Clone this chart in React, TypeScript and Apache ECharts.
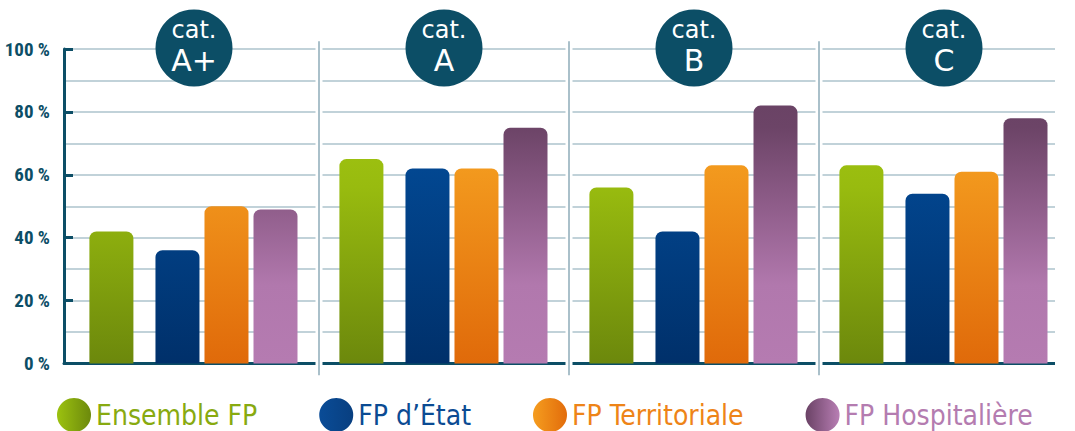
import React, { useEffect, useRef } from 'react';
import * as echarts from 'echarts';

// ---- data ----
const categories = ['A+', 'A', 'B', 'C'];
const seriesNames = ['Ensemble FP', 'FP d’État', 'FP Territoriale', 'FP Hospitalière'];
const ensembleFP = [42, 65, 56, 63];
const fpEtat = [36, 62, 42, 54];
const fpTerritoriale = [50, 62, 63, 61];
const fpHospitaliere = [49, 75, 82, 78];
const yMin = 0;
const yMax = 100;
const yInterval = 20;
const badgeValue = 100;

// ---- style ----
const W = 1075;
const H = 431;
const GRID_LEFT = 64;
const GRID_TOP = 49;
const GRID_W = 1000;
const GRID_H = 314.5;
const TEAL = '#0c4e66';
const GRID_COLOR = '#adc3cc';
const SEP_COLOR = '#8eabb8';
const NARROW = '"Roboto Condensed", Roboto, "Liberation Sans", sans-serif';
const LEGEND_FONT = '"DejaVu Sans Condensed", "Liberation Sans Narrow", Roboto, sans-serif';
const BADGE_FONT = '"DejaVu Sans", sans-serif';

const vGrad = (stops: [number, string][]) =>
  new echarts.graphic.LinearGradient(
    0, GRID_TOP, 0, GRID_TOP + GRID_H,
    stops.map(([offset, color]) => ({ offset, color })),
    true
  );
const hGrad = (a: string, b: string) =>
  new echarts.graphic.LinearGradient(0, 0, 1, 0, [
    { offset: 0, color: a },
    { offset: 1, color: b },
  ]);

const barColors = [
  vGrad([[0, '#a9cf12'], [0.44, '#98bb0f'], [1, '#6c880c']]),
  vGrad([[0, '#0750a0'], [0.38, '#024791'], [1, '#00306a']]),
  vGrad([[0, '#f7a523'], [0.37, '#f39a1e'], [1, '#e06a0a']]),
  vGrad([[0, '#654060'], [0.25, '#6c4467'], [0.5, '#8f5d8a'], [0.75, '#b178ad'], [1, '#b57bb1']]),
];
const legendIconColors = [
  hGrad('#9cc20f', '#6c890c'),
  hGrad('#0a4c97', '#083f80'),
  hGrad('#f59d1f', '#e26c0b'),
  hGrad('#6a4265', '#b87eb4'),
];
const legendTextColors = ['#88aa10', '#0b4b93', '#ee8418', '#b47cb0'];

const seriesValues = [ensembleFP, fpEtat, fpTerritoriale, fpHospitaliere];

export default function App() {
  const ref = useRef<HTMLDivElement>(null);
  useEffect(() => {
    if (!ref.current) return;
    const chart = echarts.init(ref.current, null, { renderer: 'svg', width: W, height: H });

    const barGap = '11.4%';
    const spacer = (name: string, width: number) => ({
      name,
      type: 'bar',
      barWidth: width,
      barGap,
      data: categories.map(() => '-'),
      silent: true,
      itemStyle: { color: 'transparent' },
    });
    const realBar = (i: number) => ({
      name: seriesNames[i],
      type: 'bar',
      barWidth: 44,
      barGap,
      data: seriesValues[i],
      itemStyle: { color: barColors[i], borderRadius: [7, 7, 0, 0] },
    });

    const option: any = {
      animation: false,
      backgroundColor: '#ffffff',
      grid: {
        left: GRID_LEFT,
        top: GRID_TOP,
        width: GRID_W,
        height: GRID_H,
        containLabel: false,
        outerBoundsMode: 'none',
      },
      legend: {
        left: 57,
        top: 398,
        padding: 0,
        itemWidth: 34,
        itemHeight: 34,
        itemGap: 62,
        itemTextGap: 7,
        icon: 'circle',
        selectedMode: false,
        textStyle: { fontSize: 28, fontFamily: LEGEND_FONT },
        data: seriesNames.map((n, i) => ({
          name: n,
          itemStyle: { color: legendIconColors[i] },
          textStyle: { color: legendTextColors[i] },
        })),
      },
      xAxis: [
        {
          type: 'category',
          data: categories,
          axisLine: { show: true, lineStyle: { color: TEAL, width: 3 } },
          axisTick: { show: false },
          axisLabel: { show: false },
          splitLine: { show: false },
        },
      ],
      yAxis: {
        type: 'value',
        min: yMin,
        max: yMax,
        interval: yInterval,
        axisLine: { show: true, lineStyle: { color: TEAL, width: 3 } },
        axisTick: { show: true, inside: true, length: 9, lineStyle: { color: TEAL, width: 3 } },
        axisLabel: {
          margin: 14,
          color: TEAL,
          fontFamily: NARROW,
          fontWeight: 'bold',
          fontSize: 19,
          formatter: (v: number) => `${v} %`,
        },
        splitLine: { show: true, showMinLine: false, lineStyle: { color: GRID_COLOR, width: 1.5 } },
        minorTick: { show: false, splitNumber: 2 },
        minorSplitLine: { show: true, lineStyle: { color: GRID_COLOR, width: 1.5 } },
      },
      series: [
        spacer('_lead', 8),
        realBar(0),
        spacer('_gap', 15.3),
        realBar(1),
        realBar(2),
        realBar(3),
        {
          name: '_badges',
          type: 'scatter',
          clip: false,
          silent: true,
          symbol: 'circle',
          symbolSize: 77,
          symbolOffset: [5, -1],
          z: 5,
          itemStyle: { color: TEAL, opacity: 1 },
          data: categories.map((c) => [c, badgeValue]),
          label: {
            show: true,
            position: 'inside',
            offset: [0, -2],
            formatter: (p: any) => `{a|cat.}\n{b|${p.value[0]}}`,
            rich: {
              a: { color: '#ffffff', fontSize: 24, lineHeight: 28, fontFamily: BADGE_FONT, align: 'center' },
              b: { color: '#ffffff', fontSize: 30, lineHeight: 32, fontFamily: BADGE_FONT, align: 'center' },
            },
          },
        },
      ],
    };
    chart.setOption(option);

    // separators computed from the axes
    const c0 = chart.convertToPixel({ xAxisIndex: 0 }, 0) as number;
    const c1 = chart.convertToPixel({ xAxisIndex: 0 }, 1) as number;
    const bw = c1 - c0;
    const yTop = chart.convertToPixel({ yAxisIndex: 0 }, 102.5) as number;
    const yBot = chart.convertToPixel({ yAxisIndex: 0 }, -3.7) as number;
    const yGridTop = chart.convertToPixel({ yAxisIndex: 0 }, yMax) as number;
    const yGridBot = chart.convertToPixel({ yAxisIndex: 0 }, yMin) as number;
    const shift = 5;
    const elements: any[] = [];
    for (let i = 0; i < categories.length - 1; i++) {
      const cx = (chart.convertToPixel({ xAxisIndex: 0 }, i) as number) + bw / 2 + shift;
      elements.push({
        type: 'rect',
        z: 50,
        silent: true,
        shape: { x: cx - 3.5, y: yGridTop - 2, width: 7, height: yGridBot - yGridTop + 4 },
        style: { fill: '#ffffff' },
      });
      elements.push({
        type: 'line',
        z: 51,
        silent: true,
        shape: { x1: cx, y1: yTop, x2: cx, y2: yBot },
        style: { stroke: SEP_COLOR, lineWidth: 1.5 },
      });
    }
    const lastEdge = (chart.convertToPixel({ xAxisIndex: 0 }, categories.length - 1) as number) + bw / 2;
    elements.push({
      type: 'rect',
      z: 50,
      silent: true,
      shape: { x: lastEdge - 9, y: yGridTop - 2, width: 40, height: yGridBot - yGridTop + 4 },
      style: { fill: '#ffffff' },
    });
    chart.setOption({ graphic: { elements } });

    return () => chart.dispose();
  }, []);

  return (
    <div
      ref={ref}
      style={{ position: 'absolute', left: 0, top: 0, width: W, height: H, background: '#fff' }}
    />
  );
}
